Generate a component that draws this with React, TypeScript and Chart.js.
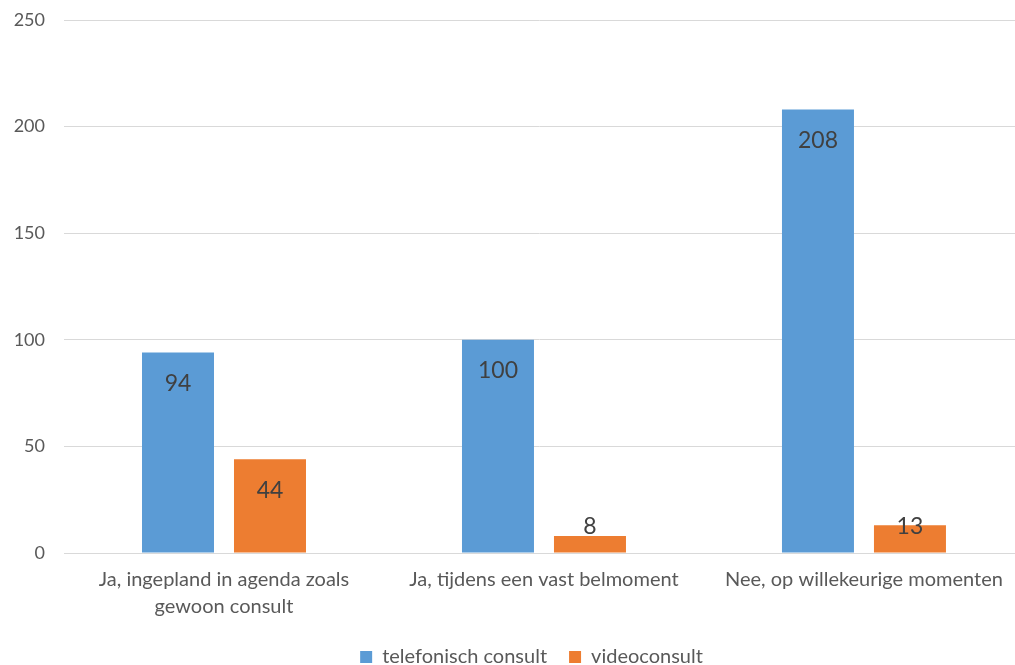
import React, { useEffect, useRef } from "react";
import { Chart, registerables } from "chart.js";

Chart.register(...registerables);

const categories: (string | string[])[] = [
  ["Ja, ingepland in agenda zoals", "gewoon consult"],
  "Ja, tijdens een vast belmoment",
  "Nee, op willekeurige momenten",
];
const telefonisch = [94, 100, 208];
const video = [44, 8, 13];
const seriesNames = ["telefonisch consult", "videoconsult"];
const yTicks = [0, 50, 100, 150, 200, 250];

const FONT = "Lato, 'Open Sans', sans-serif";

const labelPlugin = {
  id: "barLabels",
  afterLayout(chart: any) {
    const lg = chart.legend;
    if (lg) {
      const dx = 20;
      const h = lg.height;
      lg.left += dx;
      lg.right += dx;
      lg.top = 625;
      lg.bottom = 625 + h;
    }
  },
  afterDatasetsDraw(chart: any) {
    const ctx = chart.ctx;
    const base = chart.scales.y.getPixelForValue(0);
    ctx.save();
    ctx.font = `23px ${FONT}`;
    ctx.fillStyle = "#404040";
    ctx.textAlign = "center";
    ctx.textBaseline = "middle";
    chart.data.datasets.forEach((ds: any, i: number) => {
      const meta = chart.getDatasetMeta(i);
      meta.data.forEach((bar: any, j: number) => {
        const y = Math.min(bar.y + 31, base - 26);
        ctx.fillText(String(ds.data[j].y), bar.x, y);
      });
    });
    ctx.restore();
  },
};

export default function App() {
  const ref = useRef<HTMLCanvasElement>(null);
  useEffect(() => {
    if (!ref.current) return;
    const chart = new Chart(ref.current, {
      type: "bar",
      data: {
        datasets: [
          {
            label: seriesNames[0],
            data: telefonisch.map((v, i) => ({ x: i, y: v })),
            backgroundColor: "#5B9BD5",
          },
          {
            label: seriesNames[1],
            data: video.map((v, i) => ({ x: i, y: v })),
            backgroundColor: "#ED7D31",
          },
        ],
      },
      options: {
        animation: false,
        responsive: false,
        maintainAspectRatio: false,
        layout: { padding: { left: 8, right: 0, top: 0, bottom: -12 } },
        datasets: {
          bar: { categoryPercentage: 0.575, barPercentage: 0.7826 },
        },
        scales: {
          x: {
            type: "linear",
            min: -0.5,
            max: 2.472,
            offset: false,
            afterBuildTicks: (s: any) => {
              s.ticks = categories.map((_, i) => ({ value: i }));
            },
            grid: { display: false, drawTicks: false },
            border: { color: "#d9d9d9", width: 1 },
            ticks: {
              color: "#595959",
              font: { family: FONT, size: 20, lineHeight: 1.35 },
              padding: 13,
              maxRotation: 0,
              autoSkip: false,
              callback: (v: any) => categories[v as number],
            },
            afterFit: (s: any) => {
              s.height = 72;
              s.paddingLeft = 0;
              s.paddingRight = 0;
            },
          },
          y: {
            min: 0,
            max: 250,
            afterBuildTicks: (s: any) => {
              s.ticks = yTicks.map((v) => ({ value: v }));
            },
            grid: { color: "#d9d9d9", drawTicks: false },
            border: { display: false },
            ticks: {
              color: "#595959",
              font: { family: FONT, size: 18 },
              padding: 19,
            },
            afterFit: (s: any) => {
              s.width = 56;
              s.paddingTop = 20;
              s.paddingBottom = 0;
            },
          },
        },
        plugins: {
          legend: {
            position: "bottom",
            labels: {
              color: "#595959",
              font: { family: FONT, size: 20 },
              boxWidth: 12,
              boxHeight: 12,
              padding: 22,
            },
          },
          tooltip: { enabled: false },
        },
      },
      plugins: [labelPlugin],
    });
    return () => chart.destroy();
  }, []);
  return (
    <div style={{ position: "fixed", left: 0, top: 0, width: 1015, height: 665, background: "#fff" }}>
      <canvas ref={ref} width={1015} height={665} />
    </div>
  );
}
